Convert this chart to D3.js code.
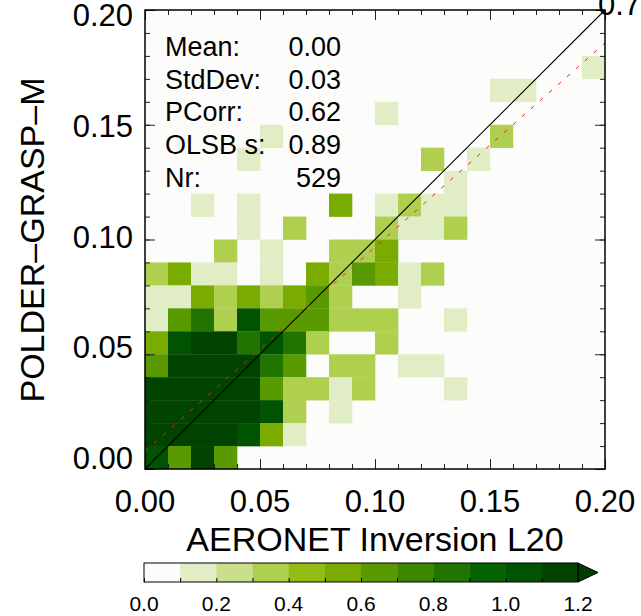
<!DOCTYPE html>
<html>
<head>
<meta charset="utf-8">
<script src="https://cdn.jsdelivr.net/npm/d3@7"></script>
<style>
  body { margin: 0; background: #fff; }
  text { font-family: "Liberation Sans", Arial, Helvetica, sans-serif; fill: #000; }
</style>
</head>
<body>
<script>
// bin edges (0.01 wide) on both axes
var binEdges = d3.range(0, 0.2001, 0.01).map(function(d) { return +d.toFixed(2); });

// density per 0.01 x 0.01 cell, rows listed from y = 0.19-0.20 (top) down to 0.00-0.01
var gridRows = [
  [0,0,0,0,0,0,0,0,0,0,0,0,0,0,0,0,0,0,0,0],
  [0,0,0,0,0,0,0,0,0,0,0,0,0,0,0,0,0,0,0,0],
  [0,0,0,0,0,0,0,0,0,0,0,0,0,0,0,0,0,0,0,0.15],
  [0,0,0,0,0,0,0,0,0,0,0,0,0,0,0,0.15,0.15,0,0,0],
  [0,0,0,0,0,0,0,0,0,0,0.15,0,0,0,0,0,0,0,0,0],
  [0,0,0,0,0,0.15,0,0,0,0,0,0,0,0,0,0.35,0,0,0,0],
  [0,0,0,0,0.15,0,0,0,0,0,0,0,0.35,0,0.15,0,0,0,0,0],
  [0,0,0,0,0,0,0,0,0,0,0,0,0,0.15,0,0,0,0,0,0],
  [0,0,0.15,0,0.15,0,0,0,0.55,0,0.15,0.35,0.15,0.15,0,0,0,0,0,0],
  [0,0,0,0,0.15,0,0.35,0,0,0,0.35,0.15,0.15,0.35,0,0,0,0,0,0],
  [0,0,0,0.35,0,0.15,0,0,0.35,0.35,0.55,0,0,0,0,0,0,0,0,0],
  [0.35,0.55,0.15,0.15,0,0.15,0,0.55,0.35,0.65,0.55,0.15,0.35,0,0,0,0,0,0,0],
  [0.15,0.15,0.55,0.35,0.55,0.35,0.55,0.65,0.35,0,0,0.15,0,0,0,0,0,0,0,0],
  [0.15,0.65,0.85,0.35,1.05,0.65,0.65,0.65,0.35,0.35,0.35,0,0,0.15,0,0,0,0,0,0],
  [0.55,1.05,1.15,1.15,0.85,1.05,0.85,0.35,0,0,0.35,0,0,0,0,0,0,0,0,0],
  [0.65,1.15,1.15,1.15,1.15,0.85,0.65,0,0.35,0.35,0,0.15,0.15,0,0,0,0,0,0,0],
  [1.15,1.15,1.15,1.15,1.15,0.65,0.35,0.35,0.15,0.35,0,0,0,0.15,0,0,0,0,0,0],
  [1.15,1.15,1.15,1.15,1.15,1.05,0.35,0,0.15,0,0,0,0,0,0,0,0,0,0,0],
  [1.15,1.15,1.15,1.15,1.05,0.55,0.15,0,0,0,0,0,0,0,0,0,0,0,0,0],
  [1.05,0.65,1.15,0.65,0,0,0,0,0,0,0,0,0,0,0,0,0,0,0,0]
];

var axisTicks = [0, 0.05, 0.10, 0.15, 0.20];
var minorTicks = d3.range(0, 0.2001, 0.01).map(function(d) { return +d.toFixed(2); });

var levelEdges = [0, 0.1, 0.2, 0.3, 0.4, 0.5, 0.6, 0.7, 0.8, 0.9, 1.0, 1.1, 1.2];
var levelColors = ["#fcfcfa", "#e1edc5", "#c9df8b", "#afcf4f", "#93bd15", "#79ab00",
                   "#589a00", "#3d8600", "#217400", "#056300", "#005300", "#004400"];
var overColor = "#003c00";
var cbTicks = [0, 0.2, 0.4, 0.6, 0.8, 1.0, 1.2];

var statNames = ["Mean:", "StdDev:", "PCorr:", "OLSB s:", "Nr:"];
var statValues = ["0.00", "0.03", "0.62", "0.89", "529"];

// regression line: intercept, slope
var fitLine = [0.0078, 0.889];

var w = 641, h = 616;
var svg = d3.select("body").append("svg").attr("width", w).attr("height", h);

var x = d3.scaleLinear().domain([0, 0.2]).range([145, 605]);
var y = d3.scaleLinear().domain([0, 0.2]).range([469, 10]);
var color = d3.scaleThreshold().domain(levelEdges.slice(1)).range(levelColors.concat([overColor]));

svg.append("rect")
   .attr("x", x(0)).attr("y", y(0.2))
   .attr("width", x(0.2) - x(0)).attr("height", y(0) - y(0.2))
   .attr("fill", "#fcfcfa");

// cells
var cells = [];
gridRows.forEach(function(row, r) {
  var j = gridRows.length - 1 - r;
  row.forEach(function(v, i) {
    if (v > 0) cells.push({ x0: binEdges[i], x1: binEdges[i + 1], y0: binEdges[j], y1: binEdges[j + 1], v: v });
  });
});

svg.selectAll("rect.cell")
   .data(cells)
   .enter()
   .append("rect")
   .attr("class", "cell")
   .attr("x", function(d) { return x(d.x0); })
   .attr("y", function(d) { return y(d.y1); })
   .attr("width", function(d) { return x(d.x1) - x(d.x0) + 0.3; })
   .attr("height", function(d) { return y(d.y0) - y(d.y1) + 0.3; })
   .attr("fill", function(d) { return color(d.v); });

// 1:1 line and fit
svg.append("line")
   .attr("x1", x(0)).attr("y1", y(0)).attr("x2", x(0.2)).attr("y2", y(0.2))
   .attr("stroke", "#000").attr("stroke-width", 1.1);

svg.append("line")
   .attr("x1", x(0)).attr("y1", y(fitLine[0]))
   .attr("x2", x(0.2)).attr("y2", y(fitLine[0] + fitLine[1] * 0.2))
   .attr("stroke", "#dd2a2a").attr("stroke-width", 1)
   .attr("stroke-dasharray", "4,8");

// inward ticks
function tickGroup(axis, transform, size, values) {
  svg.append("g").attr("transform", transform)
     .call(axis.tickValues(values).tickSize(size).tickFormat(""))
     .call(function(g) { g.select(".domain").remove(); g.selectAll("line").attr("stroke", "#222"); });
}
[[minorTicks, -5], [axisTicks, -10]].forEach(function(t) {
  tickGroup(d3.axisBottom(x), "translate(0," + y(0) + ")", t[1], t[0]);
  tickGroup(d3.axisTop(x), "translate(0," + y(0.2) + ")", t[1], t[0]);
  tickGroup(d3.axisLeft(y), "translate(" + x(0) + ",0)", t[1], t[0]);
  tickGroup(d3.axisRight(y), "translate(" + x(0.2) + ",0)", t[1], t[0]);
});

svg.append("rect")
   .attr("x", x(0)).attr("y", y(0.2))
   .attr("width", x(0.2) - x(0)).attr("height", y(0) - y(0.2))
   .attr("fill", "none").attr("stroke", "#000").attr("stroke-width", 1.5);

// tick labels
svg.selectAll("text.xl")
   .data(axisTicks)
   .enter()
   .append("text")
   .attr("x", function(d) { return x(d); })
   .attr("y", 512)
   .attr("text-anchor", "middle")
   .attr("font-size", "31px")
   .text(function(d) { return d.toFixed(2); });

var yLab = d3.scaleLinear().domain([0, 0.2]).range([469, 26]);
svg.selectAll("text.yl")
   .data(axisTicks)
   .enter()
   .append("text")
   .attr("x", 133)
   .attr("y", function(d) { return yLab(d); })
   .attr("text-anchor", "end")
   .attr("font-size", "31px")
   .text(function(d) { return d.toFixed(2); });

// titles
svg.append("text")
   .attr("x", 375).attr("y", 551)
   .attr("text-anchor", "middle")
   .attr("font-size", "34px")
   .text("AERONET Inversion L20");

svg.append("text")
   .attr("transform", "translate(44,240) rotate(-90)")
   .attr("text-anchor", "middle")
   .attr("font-size", "34px")
   .text("POLDER\u2013GRASP\u2013M");

svg.append("text")
   .attr("x", 598).attr("y", 15)
   .attr("font-size", "31px")
   .text("0.7");

// stats box
statNames.forEach(function(s, i) {
  svg.append("text").attr("x", 165).attr("y", 56 + i * 32.7)
     .attr("font-size", "27px").text(s);
  svg.append("text").attr("x", 341).attr("y", 56 + i * 32.7)
     .attr("font-size", "27px").attr("text-anchor", "end").text(statValues[i]);
});

// colour bar
var cb = d3.scaleLinear().domain([0, 1.2]).range([144, 578]);
var cbTop = 563, cbH = 19;
svg.selectAll("rect.cb")
   .data(levelColors)
   .enter()
   .append("rect")
   .attr("x", function(d, i) { return cb(levelEdges[i]); })
   .attr("y", cbTop)
   .attr("width", function(d, i) { return cb(levelEdges[i + 1]) - cb(levelEdges[i]) + 0.3; })
   .attr("height", cbH)
   .attr("fill", function(d) { return d; });

svg.append("path")
   .attr("d", "M" + cb(1.2) + "," + cbTop + "L" + (cb(1.2) + 20) + "," + (cbTop + cbH / 2) + "L" + cb(1.2) + "," + (cbTop + cbH) + "Z")
   .attr("fill", overColor).attr("stroke", "#000").attr("stroke-width", 1);

svg.append("rect")
   .attr("x", cb(0)).attr("y", cbTop).attr("width", cb(1.2) - cb(0)).attr("height", cbH)
   .attr("fill", "none").attr("stroke", "#000").attr("stroke-width", 1);

svg.append("g").attr("transform", "translate(0," + (cbTop + cbH) + ")")
   .call(d3.axisBottom(cb).tickValues(levelEdges).tickSize(-4).tickFormat(""))
   .call(function(g) { g.select(".domain").remove(); g.selectAll("line").attr("stroke", "#000"); });

svg.selectAll("text.cbl")
   .data(cbTicks)
   .enter()
   .append("text")
   .attr("x", function(d) { return cb(d); })
   .attr("y", 611)
   .attr("text-anchor", "middle")
   .attr("font-size", "21px")
   .text(function(d) { return d.toFixed(1); });
</script>
</body>
</html>
